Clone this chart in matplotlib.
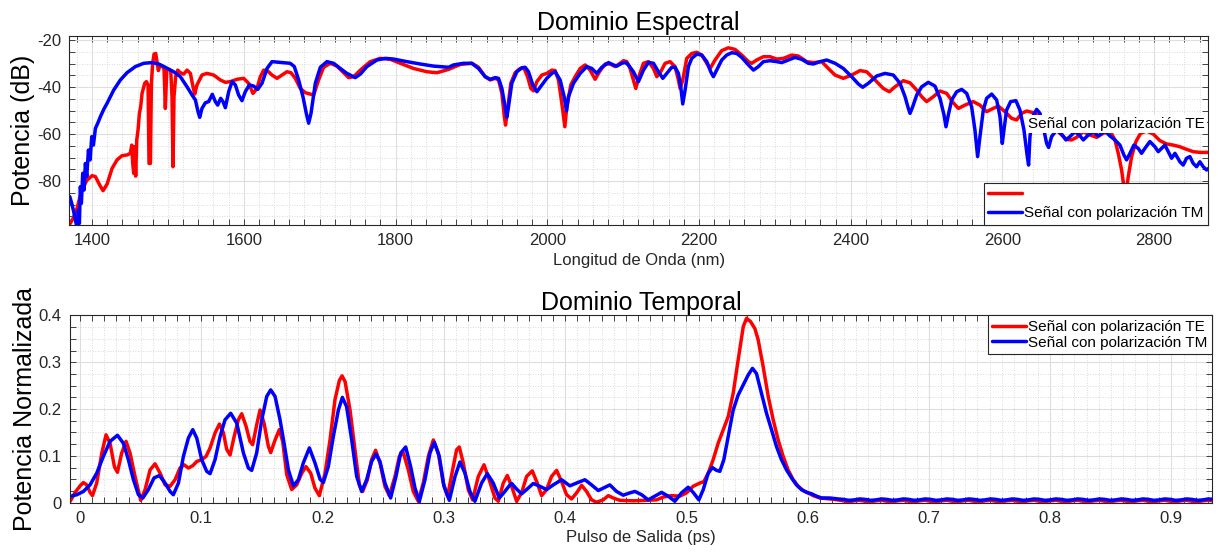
import numpy as np
import matplotlib
matplotlib.use("Agg")
import matplotlib.pyplot as plt
from matplotlib.ticker import MultipleLocator, FixedLocator, FixedFormatter

plt.rcParams['font.family'] = ['Liberation Sans', 'DejaVu Sans']
plt.rcParams['axes.unicode_minus'] = False

# ---------------- Spectral domain (wavelength nm, power dB) ----------------
spec_te = [
    (1370.6, -98.3), (1375.0, -95.9), (1380.2, -91.6), (1386.8, -83.5), (1393.4, -79.6),
    (1400.0, -77.7), (1404.4, -78.1), (1410.1, -81.7), (1414.5, -84.1), (1419.8, -81.3),
    (1426.4, -74.6), (1432.9, -71.0), (1439.5, -69.2), (1446.1, -68.9), (1450.5, -68.2),
    (1452.3, -64.7), (1453.6, -72.5), (1454.9, -76.7), (1456.2, -65.4), (1457.5, -77.9),
    (1458.9, -62.5), (1460.6, -58.3), (1462.4, -51.2), (1464.1, -48.4), (1465.9, -42.7),
    (1467.6, -40.6), (1469.4, -38.4), (1471.6, -37.7), (1473.8, -39.1), (1475.1, -72.5),
    (1476.9, -72.5), (1478.2, -38.4), (1479.9, -29.9), (1481.7, -26.0), (1483.9, -25.7),
    (1485.6, -29.2), (1487.4, -33.0), (1489.6, -30.6), (1492.7, -31.1), (1494.9, -32.5),
    (1496.6, -49.1), (1498.4, -33.0), (1501.0, -32.5), (1503.7, -33.0), (1505.4, -44.1),
    (1506.7, -73.9), (1508.0, -44.1), (1510.2, -35.6), (1512.9, -32.8), (1516.4, -33.9),
    (1520.8, -34.5), (1525.2, -32.8), (1529.6, -34.2), (1533.1, -39.9), (1535.3, -43.0),
    (1538.3, -39.1), (1544.9, -34.9), (1551.5, -34.2), (1560.3, -34.9), (1569.1, -37.0),
    (1575.7, -38.0), (1582.3, -37.7), (1591.1, -36.7), (1599.8, -36.3), (1606.4, -38.4),
    (1612.1, -42.7), (1617.4, -40.6), (1621.8, -35.6), (1626.2, -32.8), (1631.5, -33.2),
    (1637.2, -34.9), (1643.8, -36.3), (1650.3, -34.9), (1656.9, -33.5), (1662.2, -33.9),
    (1667.9, -36.3), (1674.5, -40.6), (1681.1, -42.4), (1692.1, -43.4), (1698.6, -37.0),
    (1705.2, -31.6), (1714.0, -29.9), (1722.8, -31.1), (1731.6, -33.9), (1738.2, -36.0),
    (1744.8, -35.6), (1753.6, -32.8), (1766.7, -29.2), (1779.9, -27.8), (1793.1, -28.2),
    (1806.3, -29.9), (1823.8, -32.1), (1841.4, -33.5), (1854.6, -33.9), (1869.9, -32.5),
    (1885.3, -30.4), (1900.6, -29.9), (1909.4, -31.6), (1918.2, -35.6), (1924.8, -37.0),
    (1931.4, -36.3), (1935.8, -37.0), (1940.2, -42.7), (1943.2, -51.9), (1945.0, -56.2),
    (1947.6, -49.8), (1952.0, -38.4), (1957.7, -33.9), (1964.3, -32.1), (1969.6, -32.1),
    (1974.0, -35.6), (1978.4, -40.6), (1981.9, -41.6), (1986.3, -37.7), (1992.9, -34.9),
    (1999.4, -34.2), (2006.0, -32.8), (2010.4, -33.0), (2014.8, -37.0), (2019.2, -46.9),
    (2023.2, -56.9), (2025.8, -48.4), (2031.1, -39.1), (2036.8, -35.6), (2043.4, -32.1),
    (2050.0, -30.6), (2056.5, -32.8), (2063.1, -36.7), (2068.8, -33.5), (2076.3, -30.2),
    (2082.9, -30.2), (2089.5, -31.3), (2096.1, -29.9), (2100.5, -28.8), (2104.9, -29.2),
    (2109.2, -32.1), (2113.6, -37.0), (2116.7, -40.6), (2121.5, -34.9), (2126.8, -29.9),
    (2133.4, -29.2), (2140.0, -32.1), (2144.4, -35.6), (2149.6, -33.5), (2155.4, -29.9),
    (2161.9, -29.2), (2168.5, -31.3), (2172.9, -37.0), (2175.1, -40.6), (2178.6, -37.0),
    (2183.9, -27.8), (2190.5, -25.7), (2197.1, -25.2), (2203.7, -26.4), (2210.3, -29.9),
    (2214.7, -32.1), (2221.2, -28.5), (2230.0, -24.5), (2238.8, -23.3), (2247.6, -24.0),
    (2256.4, -26.4), (2265.2, -29.2), (2269.6, -29.9), (2276.1, -28.5), (2284.9, -27.1),
    (2293.7, -27.1), (2302.5, -28.1), (2311.3, -27.8), (2322.2, -26.4), (2331.0, -26.8),
    (2342.0, -29.2), (2350.8, -29.6), (2361.8, -29.2), (2370.5, -32.1), (2379.4, -34.9),
    (2390.3, -36.3), (2401.3, -34.9), (2412.3, -33.0), (2421.1, -33.5), (2432.1, -37.0),
    (2443.0, -40.6), (2451.0, -42.0), (2458.4, -39.9), (2469.4, -37.3), (2478.2, -38.2),
    (2487.0, -41.3), (2493.6, -44.1), (2500.1, -46.2), (2508.9, -44.1), (2517.7, -41.7),
    (2526.5, -42.7), (2535.3, -46.7), (2541.9, -49.1), (2550.6, -47.7), (2561.6, -46.2),
    (2570.4, -47.7), (2579.2, -50.5), (2585.8, -49.4), (2594.6, -48.1), (2603.4, -50.5),
    (2612.1, -53.3), (2618.7, -54.0), (2625.3, -51.2), (2631.9, -50.2), (2640.7, -50.9),
    (2649.5, -52.6), (2662.6, -55.4), (2671.4, -58.3), (2678.0, -60.4), (2684.6, -62.3),
    (2691.2, -62.5), (2697.8, -61.4), (2706.6, -59.0), (2715.4, -60.4), (2724.2, -61.4),
    (2732.9, -59.7), (2741.7, -58.6), (2748.3, -62.5), (2752.7, -68.2), (2757.1, -75.3),
    (2760.1, -82.4), (2762.8, -85.2), (2765.9, -78.1), (2770.3, -69.6), (2776.0, -63.2),
    (2782.1, -59.7), (2790.0, -58.7), (2798.8, -60.0), (2807.6, -62.8), (2816.4, -64.2),
    (2825.1, -64.7), (2833.9, -65.4), (2842.7, -66.5), (2851.5, -67.5), (2860.3, -67.8),
    (2873.5, -67.8),
]

spec_tm = [
    (1370.6, -86.6), (1373.2, -89.5), (1375.8, -93.0), (1378.5, -97.3), (1380.2, -100.0),
    (1382.0, -92.3), (1383.3, -98.0), (1384.6, -82.4), (1385.9, -89.5), (1387.7, -76.7),
    (1389.5, -83.8), (1391.2, -72.5), (1393.0, -78.1), (1395.2, -66.8), (1397.4, -71.0),
    (1399.6, -61.1), (1401.8, -64.7), (1404.4, -57.6), (1407.5, -55.4), (1411.0, -52.6),
    (1415.4, -49.5), (1419.8, -46.9), (1428.5, -41.3), (1437.3, -37.0), (1446.1, -33.9),
    (1457.1, -31.3), (1468.1, -29.9), (1479.1, -29.6), (1487.8, -30.2), (1496.6, -31.6),
    (1507.6, -33.5), (1516.4, -35.6), (1525.2, -39.9), (1531.8, -43.4), (1536.2, -45.5),
    (1539.7, -50.5), (1541.9, -52.9), (1544.9, -49.1), (1549.3, -46.7), (1553.7, -46.2),
    (1558.5, -43.1), (1562.5, -46.2), (1565.6, -47.7), (1569.5, -44.8), (1572.6, -46.2),
    (1575.7, -48.8), (1580.1, -42.0), (1584.5, -37.7), (1588.9, -39.1), (1593.2, -43.4),
    (1597.6, -45.8), (1602.0, -42.0), (1607.3, -39.1), (1613.0, -39.6), (1618.3, -41.0),
    (1624.0, -38.4), (1630.6, -32.1), (1637.2, -29.2), (1648.1, -29.5), (1661.3, -29.9),
    (1666.6, -31.3), (1672.3, -37.0), (1678.0, -44.1), (1682.4, -51.2), (1685.5, -55.4),
    (1688.6, -51.2), (1694.3, -38.4), (1700.9, -31.6), (1709.6, -29.2), (1718.4, -29.9),
    (1727.2, -32.1), (1736.0, -34.2), (1747.0, -36.0), (1753.6, -34.5), (1762.3, -31.3),
    (1775.5, -28.5), (1786.5, -27.8), (1797.5, -28.1), (1815.0, -29.2), (1832.6, -30.2),
    (1850.2, -31.1), (1869.9, -31.6), (1876.5, -30.6), (1889.6, -29.9), (1900.6, -29.9),
    (1909.4, -32.1), (1918.2, -35.6), (1924.8, -36.7), (1931.4, -36.0), (1935.8, -36.3),
    (1940.2, -40.6), (1944.5, -48.4), (1946.7, -52.9), (1948.9, -48.4), (1953.3, -38.4),
    (1959.9, -33.5), (1966.5, -31.8), (1970.9, -31.6), (1975.3, -33.5), (1981.0, -39.1),
    (1986.3, -42.0), (1992.9, -39.1), (1999.4, -36.3), (2006.0, -34.2), (2010.4, -33.5),
    (2017.0, -37.0), (2022.3, -44.1), (2025.4, -50.1), (2028.0, -44.1), (2034.6, -38.4),
    (2043.4, -34.2), (2052.1, -31.3), (2058.7, -32.1), (2065.3, -34.2), (2071.9, -31.6),
    (2080.7, -29.6), (2087.3, -30.6), (2091.7, -31.1), (2098.3, -29.9), (2102.7, -29.5),
    (2107.0, -30.6), (2113.6, -33.5), (2120.2, -37.7), (2126.8, -32.8), (2133.4, -29.5),
    (2140.0, -29.9), (2146.6, -33.5), (2152.3, -36.3), (2157.6, -34.2), (2164.1, -31.6),
    (2168.5, -31.6), (2172.9, -34.2), (2176.0, -39.9), (2178.6, -47.2), (2181.7, -41.3),
    (2186.1, -31.3), (2190.5, -27.8), (2197.1, -26.0), (2203.7, -26.4), (2210.3, -29.2),
    (2215.5, -33.5), (2219.0, -35.6), (2223.4, -32.8), (2230.0, -28.5), (2236.6, -26.4),
    (2243.2, -25.4), (2249.8, -25.7), (2256.4, -27.4), (2265.2, -30.6), (2271.8, -32.8),
    (2278.3, -31.3), (2284.9, -29.2), (2293.7, -28.8), (2302.5, -29.2), (2309.1, -29.6),
    (2317.9, -28.5), (2326.6, -27.4), (2335.4, -28.2), (2344.2, -29.9), (2350.8, -30.2),
    (2359.6, -29.2), (2368.4, -28.5), (2379.4, -29.9), (2390.3, -32.1), (2401.3, -35.6),
    (2410.1, -38.7), (2415.8, -40.1), (2423.3, -38.4), (2434.3, -35.3), (2445.2, -34.2),
    (2456.2, -34.9), (2465.0, -38.4), (2471.6, -44.1), (2476.0, -49.1), (2478.2, -51.2),
    (2481.7, -48.4), (2487.0, -43.4), (2493.6, -39.9), (2502.3, -38.0), (2511.1, -39.6),
    (2517.7, -44.8), (2523.0, -51.9), (2525.6, -56.9), (2528.7, -51.9), (2533.1, -45.5),
    (2539.7, -42.0), (2546.3, -41.0), (2552.9, -42.7), (2559.4, -48.4), (2563.8, -58.3),
    (2567.3, -69.6), (2570.4, -61.1), (2574.8, -49.8), (2579.2, -44.8), (2585.8, -43.0),
    (2592.4, -45.5), (2596.8, -52.6), (2599.8, -64.0), (2602.0, -58.3), (2605.5, -49.8),
    (2610.8, -46.2), (2617.8, -45.8), (2623.1, -49.8), (2628.4, -58.3), (2632.8, -69.6),
    (2634.5, -73.2), (2636.3, -61.1), (2639.8, -52.6), (2645.1, -49.5), (2649.5, -51.2),
    (2654.7, -58.3), (2658.3, -64.0), (2660.9, -65.7), (2664.8, -61.1), (2671.4, -58.3),
    (2678.0, -60.0), (2683.7, -62.5), (2689.0, -61.1), (2695.6, -59.0), (2701.3, -60.4),
    (2706.6, -62.5), (2713.2, -60.4), (2719.7, -59.0), (2726.3, -60.8), (2730.7, -59.7),
    (2735.1, -58.7), (2741.7, -60.8), (2748.3, -62.5), (2754.9, -64.7), (2760.1, -68.9),
    (2763.7, -71.0), (2768.1, -68.2), (2773.3, -64.7), (2779.0, -66.1), (2783.4, -68.2),
    (2787.8, -66.1), (2794.4, -63.2), (2801.0, -65.4), (2805.4, -67.5), (2809.8, -66.1),
    (2814.2, -64.7), (2818.6, -67.5), (2823.0, -70.3), (2827.4, -68.2), (2834.0, -71.8),
    (2838.3, -73.2), (2842.7, -70.3), (2847.1, -69.6), (2851.5, -72.5), (2855.9, -73.9),
    (2860.3, -71.8), (2864.7, -73.9), (2869.1, -75.3), (2873.5, -74.2),
]

# ---------------- Temporal domain (time ps, normalised power) ----------------
temp_te = [
    (-0.0082, 0.003), (-0.0041, 0.022), (0.0000, 0.036), (0.0027, 0.043), (0.0055, 0.038),
    (0.0082, 0.022), (0.0102, 0.015), (0.0137, 0.042), (0.0179, 0.106), (0.0214, 0.145),
    (0.0247, 0.127), (0.0283, 0.077), (0.0308, 0.065), (0.0343, 0.106), (0.0379, 0.131),
    (0.0412, 0.106), (0.0453, 0.056), (0.0500, 0.005), (0.0536, 0.028), (0.0577, 0.070),
    (0.0618, 0.083), (0.0660, 0.063), (0.0701, 0.038), (0.0742, 0.035), (0.0783, 0.049),
    (0.0824, 0.074), (0.0857, 0.081), (0.0893, 0.074), (0.0929, 0.079), (0.0962, 0.088),
    (0.1003, 0.092), (0.1039, 0.099), (0.1072, 0.117), (0.1113, 0.149), (0.1149, 0.168),
    (0.1182, 0.149), (0.1209, 0.114), (0.1237, 0.102), (0.1270, 0.141), (0.1305, 0.177),
    (0.1333, 0.190), (0.1369, 0.163), (0.1401, 0.131), (0.1423, 0.124), (0.1456, 0.166),
    (0.1484, 0.198), (0.1517, 0.170), (0.1553, 0.120), (0.1572, 0.107), (0.1608, 0.134),
    (0.1643, 0.156), (0.1671, 0.131), (0.1704, 0.060), (0.1745, 0.028), (0.1786, 0.038),
    (0.1828, 0.063), (0.1863, 0.077), (0.1902, 0.063), (0.1937, 0.031), (0.1973, 0.015),
    (0.2020, 0.063), (0.2061, 0.134), (0.2102, 0.220), (0.2138, 0.261), (0.2160, 0.271),
    (0.2185, 0.259), (0.2226, 0.198), (0.2267, 0.113), (0.2303, 0.038), (0.2330, 0.024),
    (0.2369, 0.049), (0.2404, 0.092), (0.2437, 0.112), (0.2473, 0.085), (0.2514, 0.035),
    (0.2550, 0.015), (0.2597, 0.056), (0.2633, 0.099), (0.2665, 0.107), (0.2707, 0.070),
    (0.2748, 0.024), (0.2789, 0.003), (0.2830, 0.042), (0.2872, 0.099), (0.2913, 0.134),
    (0.2954, 0.106), (0.2995, 0.042), (0.3031, 0.014), (0.3072, 0.070), (0.3105, 0.113),
    (0.3127, 0.119), (0.3160, 0.085), (0.3201, 0.028), (0.3237, 0.006), (0.3284, 0.056),
    (0.3331, 0.081), (0.3374, 0.049), (0.3421, 0.010), (0.3449, 0.003), (0.3490, 0.042),
    (0.3523, 0.058), (0.3559, 0.035), (0.3600, 0.003), (0.3641, 0.021), (0.3682, 0.056),
    (0.3729, 0.068), (0.3770, 0.042), (0.3806, 0.015), (0.3847, 0.028), (0.3888, 0.056),
    (0.3930, 0.069), (0.3971, 0.045), (0.4012, 0.017), (0.4053, 0.008), (0.4095, 0.021),
    (0.4136, 0.037), (0.4177, 0.024), (0.4218, 0.006), (0.4259, 0.001), (0.4314, 0.006),
    (0.4356, 0.015), (0.4397, 0.010), (0.4452, 0.005), (0.4562, 0.004), (0.4672, 0.005),
    (0.4754, 0.006), (0.4809, 0.012), (0.4878, 0.015), (0.4946, 0.014), (0.5001, 0.021),
    (0.5056, 0.035), (0.5111, 0.042), (0.5144, 0.045), (0.5180, 0.063), (0.5221, 0.092),
    (0.5262, 0.127), (0.5304, 0.156), (0.5345, 0.184), (0.5386, 0.234), (0.5427, 0.305),
    (0.5469, 0.376), (0.5496, 0.394), (0.5529, 0.387), (0.5565, 0.372), (0.5592, 0.348),
    (0.5633, 0.291), (0.5675, 0.227), (0.5716, 0.177), (0.5757, 0.134), (0.5798, 0.099),
    (0.5839, 0.070), (0.5881, 0.049), (0.5922, 0.035), (0.5963, 0.026), (0.6004, 0.021),
    (0.6046, 0.015), (0.6101, 0.010), (0.6183, 0.008),
]

temp_tm = [
    (-0.0082, 0.0135), (-0.0027, 0.017), (0.0027, 0.024), (0.0082, 0.038), (0.0137, 0.063),
    (0.0192, 0.099), (0.0247, 0.131), (0.0308, 0.144), (0.0357, 0.127), (0.0398, 0.092),
    (0.0440, 0.049), (0.0481, 0.017), (0.0517, 0.010), (0.0563, 0.028), (0.0610, 0.053),
    (0.0654, 0.058), (0.0701, 0.042), (0.0742, 0.024), (0.0769, 0.017), (0.0811, 0.042),
    (0.0852, 0.099), (0.0893, 0.138), (0.0929, 0.156), (0.0962, 0.138), (0.1003, 0.092),
    (0.1044, 0.067), (0.1072, 0.062), (0.1113, 0.092), (0.1154, 0.141), (0.1195, 0.177),
    (0.1242, 0.191), (0.1292, 0.170), (0.1347, 0.106), (0.1388, 0.074), (0.1415, 0.069),
    (0.1456, 0.106), (0.1498, 0.177), (0.1539, 0.227), (0.1572, 0.241), (0.1608, 0.227),
    (0.1649, 0.177), (0.1682, 0.127), (0.1718, 0.070), (0.1759, 0.036), (0.1800, 0.049),
    (0.1841, 0.085), (0.1891, 0.117), (0.1937, 0.085), (0.1979, 0.050), (0.2006, 0.043),
    (0.2047, 0.077), (0.2088, 0.141), (0.2130, 0.198), (0.2163, 0.225), (0.2198, 0.205),
    (0.2240, 0.134), (0.2281, 0.056), (0.2322, 0.024), (0.2363, 0.049), (0.2404, 0.088),
    (0.2440, 0.104), (0.2473, 0.088), (0.2514, 0.042), (0.2561, 0.010), (0.2605, 0.056),
    (0.2644, 0.106), (0.2685, 0.119), (0.2726, 0.077), (0.2762, 0.031), (0.2798, 0.003),
    (0.2844, 0.049), (0.2885, 0.106), (0.2921, 0.129), (0.2962, 0.099), (0.3001, 0.035),
    (0.3045, 0.005), (0.3092, 0.056), (0.3133, 0.087), (0.3174, 0.063), (0.3215, 0.024),
    (0.3256, 0.003), (0.3311, 0.042), (0.3358, 0.062), (0.3407, 0.042), (0.3457, 0.010),
    (0.3503, 0.024), (0.3545, 0.038), (0.3559, 0.041), (0.3600, 0.029), (0.3641, 0.019),
    (0.3682, 0.028), (0.3737, 0.041), (0.3792, 0.035), (0.3847, 0.028), (0.3902, 0.038),
    (0.3971, 0.049), (0.4039, 0.036), (0.4095, 0.042), (0.4163, 0.049), (0.4218, 0.038),
    (0.4273, 0.026), (0.4314, 0.031), (0.4369, 0.038), (0.4424, 0.024), (0.4479, 0.016),
    (0.4534, 0.021), (0.4576, 0.024), (0.4631, 0.017), (0.4685, 0.006), (0.4740, 0.014),
    (0.4795, 0.022), (0.4850, 0.014), (0.4905, 0.003), (0.4960, 0.021), (0.5015, 0.033),
    (0.5056, 0.022), (0.5103, 0.006), (0.5139, 0.028), (0.5180, 0.063), (0.5215, 0.075),
    (0.5249, 0.069), (0.5276, 0.067), (0.5309, 0.092), (0.5345, 0.141), (0.5386, 0.198),
    (0.5427, 0.230), (0.5469, 0.252), (0.5510, 0.273), (0.5545, 0.287), (0.5578, 0.276),
    (0.5619, 0.234), (0.5661, 0.191), (0.5702, 0.156), (0.5743, 0.120), (0.5784, 0.092),
    (0.5826, 0.070), (0.5867, 0.053), (0.5908, 0.038), (0.5949, 0.028), (0.5991, 0.022),
    (0.6032, 0.019), (0.6073, 0.014), (0.6114, 0.010), (0.6183, 0.010),
]

# low ripple after the pulse (0.625 ps .. 0.935 ps, evenly sampled)
tail_te = [0.006, 0.004, 0.002, 0.004, 0.005, 0.003, 0.002, 0.004, 0.005, 0.003,
           0.002, 0.004, 0.005, 0.003, 0.002, 0.004, 0.005, 0.003, 0.002, 0.004,
           0.005, 0.003, 0.002, 0.004, 0.005, 0.003, 0.002, 0.004, 0.005, 0.003,
           0.002, 0.004, 0.005, 0.003, 0.002, 0.004, 0.005, 0.003, 0.002, 0.004,
           0.005, 0.003, 0.002, 0.004, 0.005, 0.003, 0.002, 0.004, 0.005, 0.003,
           0.002, 0.004, 0.005, 0.003, 0.002, 0.004, 0.005, 0.003, 0.002, 0.004,
           0.005, 0.003, 0.002, 0.004, 0.005, 0.003, 0.002, 0.004, 0.005, 0.004]
tail_tm = [0.008, 0.007, 0.005, 0.006, 0.008, 0.007, 0.005, 0.006, 0.008, 0.007,
           0.005, 0.006, 0.008, 0.007, 0.005, 0.006, 0.008, 0.007, 0.005, 0.006,
           0.008, 0.007, 0.005, 0.006, 0.008, 0.007, 0.005, 0.006, 0.008, 0.007,
           0.005, 0.006, 0.008, 0.007, 0.005, 0.006, 0.008, 0.007, 0.005, 0.006,
           0.008, 0.007, 0.005, 0.006, 0.008, 0.007, 0.005, 0.006, 0.008, 0.007,
           0.005, 0.006, 0.008, 0.007, 0.005, 0.006, 0.008, 0.007, 0.005, 0.006,
           0.008, 0.007, 0.005, 0.006, 0.008, 0.007, 0.005, 0.006, 0.008, 0.007]
tail_start, tail_end = 0.625, 0.935

label_te = 'Señal con polarización TE'
label_tm = 'Señal con polarización TM'

spec_xticks = [1400, 1600, 1800, 2000, 2200, 2400, 2600, 2800]
spec_yticks = [-80, -60, -40, -20]
temp_xticks = [0, 0.1, 0.2, 0.3, 0.4, 0.5, 0.6, 0.7, 0.8, 0.9]
temp_xticklabels = ['0', '0.1', '0.2', '0.3', '0.4', '0.5', '0.6', '0.7', '0.8', '0.9']
temp_yticks = [0, 0.1, 0.2, 0.3, 0.4]
temp_yticklabels = ['0', '0.1', '0.2', '0.3', '0.4']

# ---------------- Figure ----------------
DARK = '#262626'
LW = 2.5

fig = plt.figure(figsize=(12.18, 5.56), dpi=100)
ax1 = fig.add_axes([0.0569, 0.5953, 0.9349, 0.3399])
ax2 = fig.add_axes([0.0575, 0.0959, 0.9376, 0.3367])


def style(ax):
    for s in ax.spines.values():
        s.set_color(DARK)
        s.set_linewidth(0.8)
    ax.tick_params(which='both', direction='in', top=True, right=True,
                   color=DARK, labelcolor=DARK, labelsize=12, width=0.6, length=4, pad=6)
    ax.grid(True, which='major', color='#dedede', linewidth=0.8, linestyle='-')
    ax.grid(True, which='minor', color='#cfcfcf', linewidth=0.6, linestyle=(0, (1, 2)))
    ax.set_axisbelow(True)


line_kw = dict(lw=LW, solid_joinstyle='round', solid_capstyle='round')

# --- Spectral ---
x_te, y_te = zip(*spec_te)
x_tm, y_tm = zip(*spec_tm)
l_te, = ax1.plot(x_te, y_te, color='#ff0000', **line_kw)
l_tm, = ax1.plot(x_tm, y_tm, color='#0000ff', **line_kw)
ax1.set_xlim(1370, 2871)
ax1.set_ylim(-98.7, -18.3)
ax1.xaxis.set_major_locator(FixedLocator(spec_xticks))
ax1.yaxis.set_major_locator(FixedLocator(spec_yticks))
ax1.xaxis.set_minor_locator(MultipleLocator(20))
ax1.yaxis.set_minor_locator(MultipleLocator(5))
style(ax1)
ax1.set_title('Dominio Espectral', fontsize=18, pad=4)
ax1.set_xlabel('Longitud de Onda (nm)', fontsize=12, color=DARK, labelpad=3)
ax1.set_ylabel('Potencia (dB)', fontsize=18, color='black', labelpad=1)
leg1 = ax1.legend([l_te, l_tm], [' ', label_tm], loc='lower right', fontsize=11,
                  borderaxespad=0, fancybox=False, framealpha=1, edgecolor=DARK,
                  handlelength=2.2, handletextpad=0.15, labelspacing=0.3, borderpad=0.3)
leg1.get_frame().set_linewidth(0.8)
ax1.text(0.842, 0.535, label_te, transform=ax1.transAxes, fontsize=11, ha='left', va='center',
         zorder=6, bbox=dict(facecolor='white', edgecolor='none', pad=1.5))

# --- Temporal ---
tt_te, yy_te = zip(*temp_te)
tt_tm, yy_tm = zip(*temp_tm)
t_tail_te = np.linspace(tail_start, tail_end, len(tail_te))
t_tail_tm = np.linspace(tail_start, tail_end, len(tail_tm))
l2_te, = ax2.plot(list(tt_te) + list(t_tail_te), list(yy_te) + tail_te, color='#ff0000', **line_kw)
l2_tm, = ax2.plot(list(tt_tm) + list(t_tail_tm), list(yy_tm) + tail_tm, color='#0000ff', **line_kw)
ax2.set_xlim(-0.0083, 0.9335)
ax2.set_ylim(0, 0.4)
ax2.xaxis.set_major_locator(FixedLocator(temp_xticks))
ax2.xaxis.set_major_formatter(FixedFormatter(temp_xticklabels))
ax2.yaxis.set_major_locator(FixedLocator(temp_yticks))
ax2.yaxis.set_major_formatter(FixedFormatter(temp_yticklabels))
ax2.xaxis.set_minor_locator(MultipleLocator(0.01))
ax2.yaxis.set_minor_locator(MultipleLocator(0.025))
style(ax2)
ax2.set_title('Dominio Temporal', fontsize=18, pad=4)
ax2.set_xlabel('Pulso de Salida (ps)', fontsize=12, color=DARK, labelpad=3)
ax2.set_ylabel('Potencia Normalizada', fontsize=18, color='black', labelpad=1)
leg2 = ax2.legend([l2_te, l2_tm], [label_te, label_tm], loc='upper right', fontsize=11,
                  borderaxespad=0, fancybox=False, framealpha=1, edgecolor=DARK,
                  handlelength=2.2, handletextpad=0.15, labelspacing=0.1, borderpad=0.3)
leg2.get_frame().set_linewidth(0.8)

fig.savefig('out.png', dpi=100)
